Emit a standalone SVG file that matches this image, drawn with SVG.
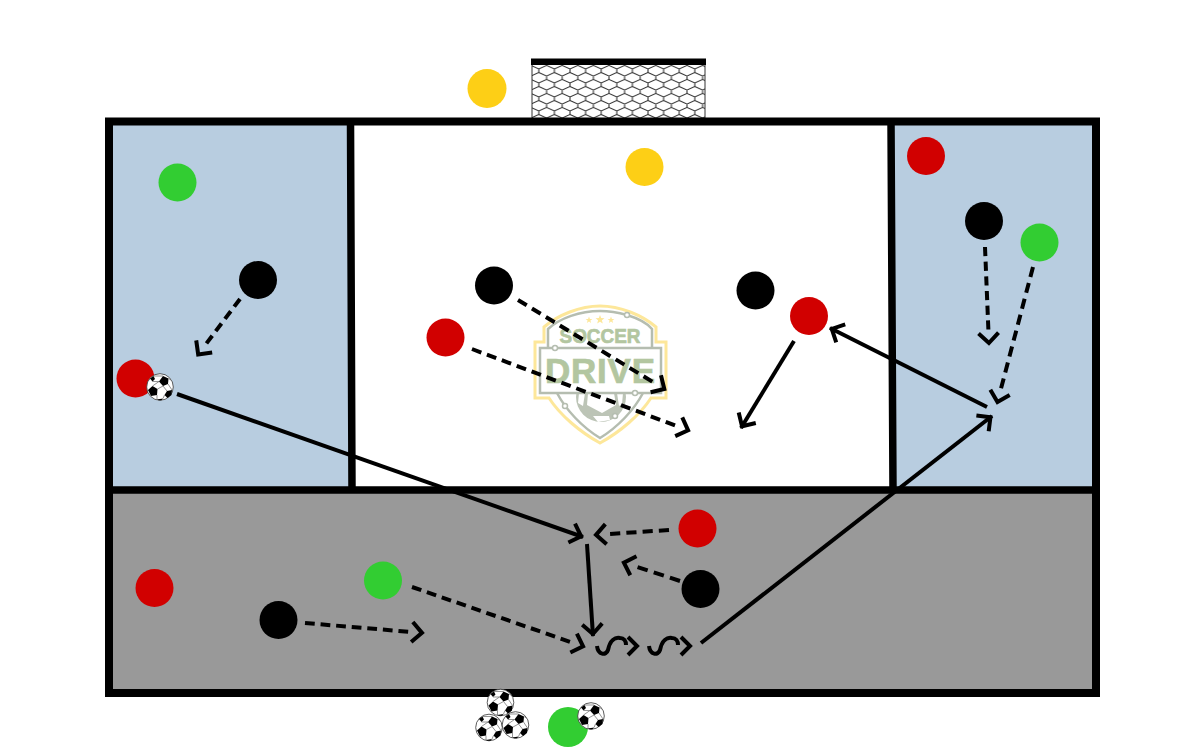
<svg xmlns="http://www.w3.org/2000/svg" width="1200" height="750" viewBox="0 0 1200 750">
<style>
.frame{fill:none;stroke:#000;stroke-width:8}
.div{fill:none;stroke:#000;stroke-width:7.500}
.c{fill:none;stroke:#000;stroke-width:4;marker-end:url(#chev)}
.d{stroke-dasharray:10 6;marker-end:url(#chevd)}
.s{fill:none;stroke:#000;stroke-width:4}
.red{fill:#d10000}.blk{fill:#000}.grn{fill:#32cd32}.yel{fill:#fdcf16}
.lg{fill:none;stroke:#b5bdb0;stroke-width:2.500}
.lt{font-family:"Liberation Sans","DejaVu Sans",sans-serif;font-weight:700;fill:#b3c6a0;stroke:#b3c6a0;stroke-width:.7;text-anchor:middle}
</style>
<defs>
<marker id="chev" markerUnits="userSpaceOnUse" markerWidth="30" markerHeight="30" refX="17" refY="15" orient="auto" viewBox="0 0 30 30" overflow="visible">
<path d="M5 5L15 15L5 25" fill="none" stroke="#000" stroke-width="4"/>
</marker>
<marker id="chevd" markerUnits="userSpaceOnUse" markerWidth="30" markerHeight="30" refX="7" refY="15" orient="auto" viewBox="0 0 30 30" overflow="visible">
<path d="M5 5L15 15L5 25" fill="none" stroke="#000" stroke-width="4"/>
</marker>
<pattern id="net" patternUnits="userSpaceOnUse" x="531" y="62" width="15.600" height="14">
<path d="M0 0V3.500L7.800 7L15.600 3.500V0M7.800 7V10.500L0 14M7.800 10.500L15.600 14" fill="none" stroke="#333" stroke-width="1.100"/>
</pattern>
<symbol id="ball" viewBox="-14 -14 28 28" overflow="visible">
<circle r="13.300" fill="#fff" stroke="#333" stroke-width="0.800"/>
<path d="M3-11L8.500-8.500L8-3L3-1L-1-5.500Z" fill="#000"/>
<path d="M-7.500-1L-2.500 2L-3 8L-9 9L-12 3Z" fill="#000"/>
<path d="M7 4L12 3L11.500 8L7.500 11L4.500 8Z" fill="#000"/>
<path d="M-10-8.500L-6.500-11L-5-8L-7.500-5.500Z" fill="#000"/>
<path d="M-3 12.500L3 11.500L1.500 13.300H-1.500Z" fill="#000"/>
<path d="M-1-5.500L-7.500-5.500M-1-5.500L-7.500-1M3-1L-2.500 2M3-1L7 4M-3 8L-3 12.500M4.500 8L3 11.500M8-3L12 3M8.500-8.500L11-7M3-11L-6.500-11" stroke="#666" stroke-width="0.700" fill="none"/>
</symbol>
</defs>
<rect x="109" y="121" width="242" height="369" fill="#b8cde0"/>
<rect x="893" y="121" width="203" height="369" fill="#b8cde0"/>
<rect x="109" y="490" width="987" height="203" fill="#999"/>
<g id="goal">
<rect x="532" y="62" width="173" height="57" fill="#fff"/>
<rect x="532" y="62" width="173" height="57" fill="url(#net)"/>
<path d="M532 62V119M705 62V119" stroke="#333" stroke-width="1"/>
<rect x="531" y="58.500" width="175" height="6.500" fill="#000"/>
</g>
<g id="logo">
<path d="M600 306C580 306 558 315 544 327V342H535V398H549C560 415 580 432 600 443C620 432 640 415 651 398H666V342H656V327C642 315 620 306 600 306Z" fill="#fff" stroke="#fde79a" stroke-width="3"/>
<path d="M557 393C566 410 582 427 600 438C618 427 634 410 643 393M548 347V329C560 318 580 311 600 311C610 311 620 313 627 315C640 319 648 324 652 329V347" class="lg"/>
<circle cx="601" cy="397" r="25" fill="#bcc4b6"/>
<path d="M588 393H614L616 405L602 413L587 405ZM579 393H585L583 406L578 403ZM617 393H623L622 404L619 406ZM593 416L609 416L610 420L598 422Z" fill="#fff"/>
<rect x="540" y="348" width="121" height="45" fill="#fff" stroke="#b5bdb0" stroke-width="2.500"/>
<g fill="#fde79a"><path d="M589 316.500l.9 2.400 2.500.1-2 1.500.7 2.500-2.100-1.500-2.100 1.500.7-2.500-2-1.500 2.500-.1z"/><path d="M600 315l1.200 3.100 3.300.2-2.600 2 .9 3.200-2.800-1.800-2.800 1.800.9-3.200-2.600-2 3.300-.2z"/><path d="M611 316.500l.9 2.400 2.500.1-2 1.500.7 2.500-2.100-1.500-2.100 1.500.7-2.500-2-1.500 2.500-.1z"/></g>
<text class="lt" x="600" y="343" font-size="20" textLength="81" lengthAdjust="spacingAndGlyphs">SOCCER</text>
<text class="lt" x="600" y="383" font-size="35" textLength="110" lengthAdjust="spacing">DRIVE</text>
<g fill="#fff" stroke="#b5bdb0" stroke-width="1.500"><circle cx="627" cy="315" r="2.500"/><circle cx="555" cy="348" r="2.500"/><circle cx="635" cy="393" r="2.500"/><circle cx="565" cy="406" r="2.500"/><circle cx="615" cy="416" r="2.500"/></g>
</g>
<g id="field">
<rect class="frame" x="109" y="121.500" width="987" height="571.500"/>
<path class="div" d="M350.500 121L352 490M891 121L893 490M109 490H1096"/>
</g>
<g id="connectors">
<path class="c" d="M177 394L583 537"/>
<path class="c" d="M587 544L593 636"/>
<path class="c" d="M701 643L992 416"/>
<path class="c" d="M987 407L830 328"/>
<path class="c" d="M794 341L741 428"/>
<path class="c d" pathLength="64" d="M240 299L203 348"/>
<path class="c d" pathLength="160" d="M518 300L657.500 384.800"/>
<path class="c d" pathLength="224" d="M472 349L680.600 427.500"/>
<path class="c d" pathLength="96" d="M985 247L988.600 335"/>
<path class="c d" pathLength="128" d="M1033 267L999.500 394.300"/>
<path class="c d" pathLength="64" d="M669 530L604 534.300"/>
<path class="c d" pathLength="48" d="M680 581L631.500 565.100"/>
<path class="c d" pathLength="112" d="M305 623L414 632.200"/>
<path class="c d" pathLength="176" d="M412 587L575.500 643.700"/>
<path class="s" d="M597 646C598 655 606 656 608 650C610 640 615 637 620 638C624 638 626 641 626 645"/>
<path class="s" d="M628 637L637 646L628 655"/>
<path class="s" d="M649 646C650 655 658 656 660 650C662 640 667 637 672 638C676 638 678 641 678 645"/>
<path class="s" d="M681 637L690 646L681 655"/>
</g>
<g id="p1"><circle class="yel" cx="487" cy="88.500" r="19.500"/></g>
<g id="p2"><circle class="yel" cx="644.500" cy="167" r="19"/></g>
<g id="p3"><circle class="grn" cx="177.500" cy="182.500" r="19"/></g>
<g id="p4"><circle class="red" cx="926" cy="156" r="19"/></g>
<g id="p5"><circle class="blk" cx="984" cy="221" r="19"/></g>
<g id="p6"><circle class="grn" cx="1039.500" cy="242.500" r="19"/></g>
<g id="p7"><circle class="blk" cx="258" cy="280" r="19"/></g>
<g id="p8"><circle class="blk" cx="494" cy="285.500" r="19"/></g>
<g id="p9"><circle class="blk" cx="755.500" cy="290.500" r="19"/></g>
<g id="p10"><circle class="red" cx="809" cy="316" r="19"/></g>
<g id="p11"><circle class="red" cx="445.500" cy="337.500" r="19"/></g>
<g id="p12"><circle class="red" cx="135.500" cy="378.500" r="19"/></g>
<g id="p13"><circle class="red" cx="697.500" cy="528.500" r="19"/></g>
<g id="p14"><circle class="blk" cx="700.500" cy="589" r="19"/></g>
<g id="p15"><circle class="grn" cx="383" cy="580.500" r="19"/></g>
<g id="p16"><circle class="red" cx="154.500" cy="588" r="19"/></g>
<g id="p17"><circle class="blk" cx="278.500" cy="620" r="19"/></g>
<g id="p18"><circle class="grn" cx="568" cy="727" r="20"/></g>
<g id="balls">
<use href="#ball" x="146" y="373" width="28" height="28"/>
<use href="#ball" x="486.500" y="688.500" width="28" height="28"/>
<use href="#ball" x="475" y="713.500" width="28" height="28"/>
<use href="#ball" x="501.500" y="711" width="28" height="28"/>
<use href="#ball" x="577" y="702" width="28" height="28"/>
</g>
</svg>
